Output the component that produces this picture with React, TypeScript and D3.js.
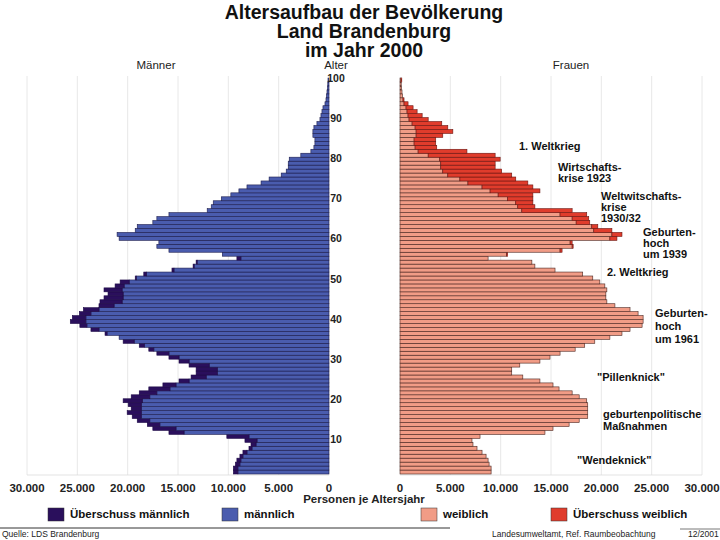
import React from "react";
import * as d3 from "d3";

// Population (persons per year of age), index = age 0..99
const men = [
  9500, 9500, 9300, 9150, 8850, 8550, 7950, 7750, 8350, 10150,
  15900, 17500, 18050, 19050, 19550, 20050, 19650, 19950, 20450, 19650,
  18850, 17900, 16500, 14900, 13700, 13200, 13200, 13900, 14900, 15900,
  17100, 17900, 18850, 20450, 20850, 22250, 23650, 24750, 25700, 25500,
  24800, 24400, 22850, 22750, 22350, 21950, 22350, 21250, 20750, 19250,
  18400, 15600, 13500, 13200, 9150, 10600, 15900, 17100, 16900, 20850,
  21050, 19250, 19050, 17500, 17100, 15900, 12100, 11700, 11500, 10700,
  9750, 8950, 8150, 6750, 5950, 4750, 4250, 4050, 4050, 3950,
  2800, 1800, 1500, 1400, 1400, 1600, 1600, 1500, 1200, 900,
  800, 700, 600, 400, 300, 250, 200, 150, 120, 100,
];
const women = [
  9050, 9050, 8850, 8750, 8550, 8150, 7650, 7250, 7150, 7950,
  14400, 15200, 16800, 17800, 18650, 18650, 18650, 18650, 18550, 17800,
  17100, 15800, 15200, 13900, 12200, 11100, 11100, 11900, 13900, 14900,
  15900, 17400, 18350, 19350, 20850, 22050, 22850, 24050, 24150, 24150,
  23650, 22850, 21350, 20550, 20450, 20450, 20550, 20350, 19850, 19150,
  18150, 15400, 13400, 13100, 8750, 10700, 16100, 17200, 17100, 21550,
  22050, 21050, 19650, 18850, 18750, 18550, 17100, 13400, 13200, 13200,
  13200, 13900, 13200, 12700, 11500, 11100, 10100, 9450, 9450, 9950,
  9450, 6650, 3650, 3550, 3550, 4250, 5250, 4750, 4150, 2800,
  2200, 1700, 1300, 800, 400, 250, 200, 150, 120, 180,
];
const ageTicks = [10, 20, 30, 40, 50, 60, 70, 80, 90, 100];
const valueTicks = [0, 5000, 10000, 15000, 20000, 25000, 30000];

const titleLines = ["Altersaufbau der Bevölkerung", "Land Brandenburg", "im Jahr 2000"];

const annotations: { lines: string[]; x: number; age: number; lh: number }[] = [
  { lines: ["1. Weltkrieg"], x: 519, age: 83, lh: 0 },
  { lines: ["Wirtschafts-", "krise 1923"], x: 558, age: 76.4, lh: 11 },
  { lines: ["Weltwitschafts-", "krise", "1930/32"], x: 601, age: 67.8, lh: 11 },
  { lines: ["Geburten-", "hoch", "um 1939"], x: 643, age: 58.9, lh: 11 },
  { lines: ["2. Weltkrieg"], x: 607, age: 51.6, lh: 0 },
  { lines: ["Geburten-", "hoch", "um 1961"], x: 655, age: 38.2, lh: 13 },
  { lines: ['"Pillenknick"'], x: 597, age: 25.4, lh: 0 },
  { lines: ["geburtenpolitische", "Maßnahmen"], x: 603, age: 14.7, lh: 12 },
  { lines: ['"Wendeknick"'], x: 577, age: 4.7, lh: 0 },
];

const legendItems = [
  { label: "Überschuss männlich", color: "#2a0f5c", x: 48 },
  { label: "männlich", color: "#4a5cae", x: 222 },
  { label: "weiblich", color: "#f19c86", x: 421 },
  { label: "Überschuss weiblich", color: "#e03c2c", x: 551 },
];

const FONT = "'Liberation Sans', Arial, Helvetica, sans-serif";

export default function App() {
  const W = 720;
  const H = 540;
  const ages = men.map((_, i) => i);

  const yBand = d3
    .scaleBand<number>()
    .domain([...ages].reverse())
    .range([78, 474])
    .padding(0);
  const yAge = d3.scaleLinear().domain([0, 100]).range([479, 78]);
  const xL = d3.scaleLinear().domain([0, 30000]).range([329, 27]);
  const xR = d3.scaleLinear().domain([0, 30000]).range([400, 702]);

  const loc = d3.formatLocale({
    decimal: ",",
    thousands: ".",
    grouping: [3],
    currency: ["", " €"],
  });
  const fmt = loc.format(",");

  const bh = yBand.bandwidth();

  return (
    <svg
      width={W}
      height={H}
      style={{ position: "absolute", left: 0, top: 0, background: "#fff" }}
      fontFamily={FONT}
    >
      <rect x={0} y={0} width={W} height={H} fill="#fff" />
      {/* Title */}
      {titleLines.map((t, i) => (
        <text
          key={t}
          x={364}
          y={18.5 + i * 19}
          textAnchor="middle"
          fontSize={19.5}
          fontWeight="bold"
          fill="#111"
        >
          {t}
        </text>
      ))}
      <text x={156} y={69} textAnchor="middle" fontSize={11.5} fill="#222">
        Männer
      </text>
      <text x={336} y={69} textAnchor="middle" fontSize={11.5} fill="#222">
        Alter
      </text>
      <text x={571} y={69} textAnchor="middle" fontSize={11.5} fill="#222">
        Frauen
      </text>

      {/* grid */}
      {valueTicks
        .filter((v) => v > 0)
        .map((v) => (
          <g key={"g" + v}>
            <line x1={xL(v)} x2={xL(v)} y1={76} y2={475} stroke="#e2e2e2" strokeWidth={0.8} />
            <line x1={xR(v)} x2={xR(v)} y1={76} y2={475} stroke="#e2e2e2" strokeWidth={0.8} />
          </g>
        ))}
      <line x1={xL(30000)} x2={xL(0)} y1={475} y2={475} stroke="#dcdcdc" strokeWidth={0.8} />
      <line x1={xR(0)} x2={xR(30000)} y1={475} y2={475} stroke="#dcdcdc" strokeWidth={0.8} />

      {/* Men bars */}
      {ages.map((a) => {
        const m = men[a];
        const w = women[a];
        const base = Math.min(m, w);
        const y = yBand(a) as number;
        return (
          <g key={"m" + a}>
            <rect
              x={xL(base)}
              y={y}
              width={xL(0) - xL(base)}
              height={bh}
              fill="#4a5cae"
              stroke="#1c1c4c"
              strokeWidth={0.6}
            />
            {m > w && (
              <rect
                x={xL(m)}
                y={y}
                width={xL(w) - xL(m)}
                height={bh}
                fill="#2a0f5c"
                stroke="#1e0a46"
                strokeWidth={0.6}
              />
            )}
          </g>
        );
      })}

      {/* Women bars */}
      {ages.map((a) => {
        const m = men[a];
        const w = women[a];
        const base = Math.min(m, w);
        const y = yBand(a) as number;
        return (
          <g key={"w" + a}>
            <rect
              x={xR(0)}
              y={y}
              width={xR(base) - xR(0)}
              height={bh}
              fill="#f19c86"
              stroke="#4a2620"
              strokeWidth={0.6}
            />
            {w > m && (
              <rect
                x={xR(m)}
                y={y}
                width={xR(w) - xR(m)}
                height={bh}
                fill="#e03c2c"
                stroke="#6a1410"
                strokeWidth={0.6}
              />
            )}
          </g>
        );
      })}

      {/* Age labels */}
      {ageTicks.map((a) => (
        <text
          key={"a" + a}
          x={336}
          y={yAge(a) + 4}
          textAnchor="middle"
          fontSize={10.5}
          fontWeight="bold"
          fill="#222"
        >
          {a}
        </text>
      ))}

      {/* Value tick labels */}
      {valueTicks.map((v) => (
        <text
          key={"l" + v}
          x={xL(v)}
          y={492}
          textAnchor="middle"
          fontSize={11.5}
          fontWeight="bold"
          fill="#222"
        >
          {fmt(v)}
        </text>
      ))}
      {valueTicks.map((v) => (
        <text
          key={"r" + v}
          x={xR(v)}
          y={492}
          textAnchor="middle"
          fontSize={11.5}
          fontWeight="bold"
          fill="#222"
        >
          {fmt(v)}
        </text>
      ))}
      <text x={364} y={503} textAnchor="middle" fontSize={11.5} fontWeight="bold" fill="#222">
        Personen je Altersjahr
      </text>

      {/* Annotations */}
      {annotations.map((an, i) => {
        const y0 = yAge(an.age) + 4 - ((an.lines.length - 1) * an.lh) / 2;
        return (
          <text key={"an" + i} fontSize={11} fontWeight="bold" fill="#111">
            {an.lines.map((l, j) => (
              <tspan key={j} x={an.x} y={y0 + j * an.lh}>
                {l}
              </tspan>
            ))}
          </text>
        );
      })}

      {/* Legend */}
      {legendItems.map((it) => (
        <g key={it.label}>
          <rect x={it.x} y={508} width={16} height={13} fill={it.color} stroke="#333" strokeWidth={0.5} />
          <text x={it.x + 22} y={518} fontSize={11.5} fontWeight="bold" fill="#111">
            {it.label}
          </text>
        </g>
      ))}

      {/* Footer */}
      <line x1={0} x2={450} y1={528} y2={528} stroke="#333" strokeWidth={1} />
      <line x1={680} x2={720} y1={529} y2={529} stroke="#555" strokeWidth={0.8} />
      <text x={2} y={537} fontSize={8.5} fill="#222">
        Quelle: LDS Brandenburg
      </text>
      <text x={492} y={537} fontSize={8.5} fill="#222">
        Landesumweltamt, Ref. Raumbeobachtung
      </text>
      <text x={688} y={537} fontSize={8.5} fill="#222">
        12/2001
      </text>
    </svg>
  );
}
